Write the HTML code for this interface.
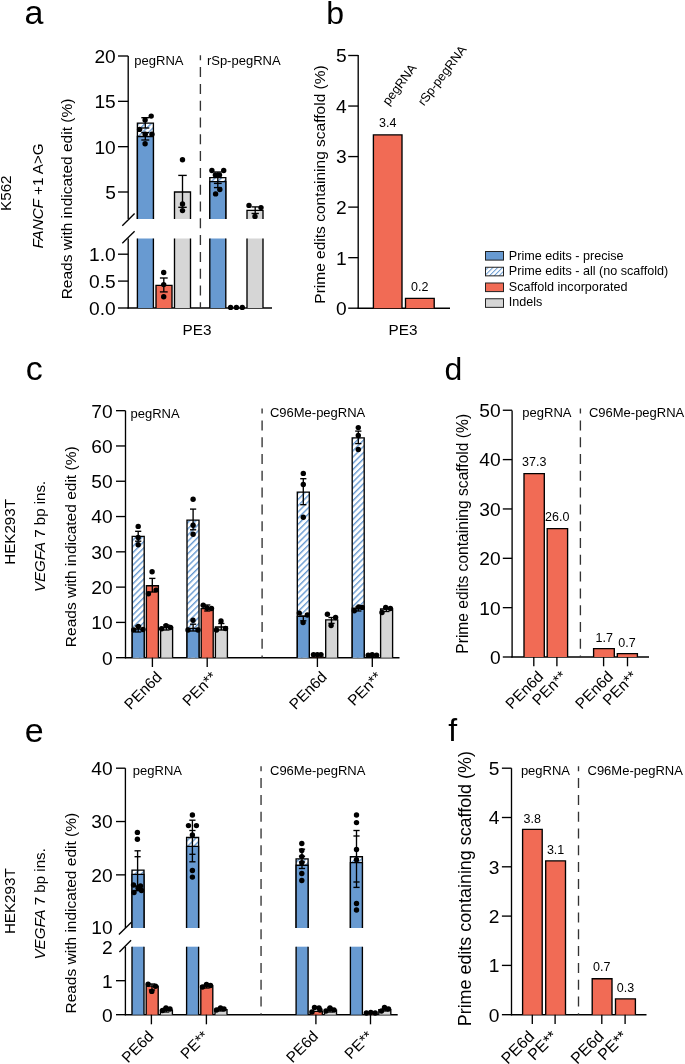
<!DOCTYPE html>
<html><head><meta charset="utf-8"><title>Figure</title>
<style>
html,body{margin:0;padding:0;background:#fff;}
svg{display:block;font-family:"Liberation Sans",sans-serif;will-change:transform;}
</style></head><body>
<svg width="685" height="1064" viewBox="0 0 685 1064">
<defs>
<pattern id="hatch" patternUnits="userSpaceOnUse" width="4.4" height="4.4" patternTransform="rotate(45)">
<rect width="4.4" height="4.4" fill="#fff"/><rect x="0" y="0" width="1.4" height="4.4" fill="#689AD1"/></pattern>
<pattern id="hatchL" patternUnits="userSpaceOnUse" width="3.4" height="3.4" patternTransform="rotate(45)">
<rect width="3.4" height="3.4" fill="#fff"/><rect x="0" y="0" width="1.0" height="3.4" fill="#689AD1"/></pattern>
</defs>
<text x="24.6" y="23.6" font-size="34" text-anchor="start" >a</text>
<text x="326.2" y="23.5" font-size="32" text-anchor="start" >b</text>
<text x="25.7" y="379.9" font-size="34" text-anchor="start" >c</text>
<text x="444.5" y="380.2" font-size="32" text-anchor="start" >d</text>
<text x="24.8" y="741.7" font-size="34" text-anchor="start" >e</text>
<text x="448.3" y="741.4" font-size="32" text-anchor="start" >f</text>
<line x1="128.2" y1="56" x2="128.2" y2="219" stroke="#000" stroke-width="1.35" />
<line x1="128.2" y1="238.5" x2="128.2" y2="308.6" stroke="#000" stroke-width="1.35" />
<line x1="127.6" y1="308" x2="272" y2="308" stroke="#000" stroke-width="1.35" />
<line x1="118" y1="56" x2="128.2" y2="56" stroke="#000" stroke-width="1.35" />
<text x="115.8" y="62.85" font-size="19.2" text-anchor="end" >20</text>
<line x1="118" y1="101.34" x2="128.2" y2="101.34" stroke="#000" stroke-width="1.35" />
<text x="115.8" y="108.19" font-size="19.2" text-anchor="end" >15</text>
<line x1="118" y1="146.67" x2="128.2" y2="146.67" stroke="#000" stroke-width="1.35" />
<text x="115.8" y="153.52" font-size="19.2" text-anchor="end" >10</text>
<line x1="118" y1="192" x2="128.2" y2="192" stroke="#000" stroke-width="1.35" />
<text x="115.8" y="198.85" font-size="19.2" text-anchor="end" >5</text>
<line x1="118" y1="254.2" x2="128.2" y2="254.2" stroke="#000" stroke-width="1.35" />
<text x="115.8" y="261.05" font-size="19.2" text-anchor="end" >1.0</text>
<line x1="118" y1="281.1" x2="128.2" y2="281.1" stroke="#000" stroke-width="1.35" />
<text x="115.8" y="287.95" font-size="19.2" text-anchor="end" >0.5</text>
<line x1="118" y1="308" x2="128.2" y2="308" stroke="#000" stroke-width="1.35" />
<text x="115.8" y="314.85" font-size="19.2" text-anchor="end" >0.0</text>
<line x1="122.3" y1="225.8" x2="134.6" y2="213.6" stroke="#000" stroke-width="1.35" />
<line x1="122.3" y1="243.3" x2="134.6" y2="231.3" stroke="#000" stroke-width="1.35" />
<rect x="137.4" y="123.1" width="16" height="95.9" fill="url(#hatch)"/>
<path d="M137.4 219V123.1H153.4V219" stroke="#000" stroke-width="1.35" fill="none" />
<rect x="137.4" y="136.5" width="16" height="82.5" fill="#689AD1"/>
<path d="M137.4 219V136.5H153.4V219" stroke="#000" stroke-width="1.35" fill="none" />
<rect x="137.4" y="238.5" width="16" height="69.5" fill="#689AD1"/>
<path d="M137.4 308V238.5M153.4 238.5V308" stroke="#000" stroke-width="1.35" fill="none" />
<rect x="156" y="285.4" width="16" height="22.6" fill="#F16B55"/>
<path d="M156 308V285.4H172V308" stroke="#000" stroke-width="1.35" fill="none" />
<rect x="174.5" y="192" width="16" height="27" fill="#D6D6D6"/>
<path d="M174.5 219V192H190.5V219" stroke="#000" stroke-width="1.35" fill="none" />
<rect x="174.5" y="238.5" width="16" height="69.5" fill="#D6D6D6"/>
<path d="M174.5 308V238.5M190.5 238.5V308" stroke="#000" stroke-width="1.35" fill="none" />
<rect x="209.8" y="177.6" width="16" height="41.4" fill="url(#hatch)"/>
<path d="M209.8 219V177.6H225.8V219" stroke="#000" stroke-width="1.35" fill="none" />
<rect x="209.8" y="181.6" width="16" height="37.4" fill="#689AD1"/>
<path d="M209.8 219V181.6H225.8V219" stroke="#000" stroke-width="1.35" fill="none" />
<rect x="209.8" y="238.5" width="16" height="69.5" fill="#689AD1"/>
<path d="M209.8 308V238.5M225.8 238.5V308" stroke="#000" stroke-width="1.35" fill="none" />
<rect x="247" y="210.3" width="16" height="8.7" fill="#D6D6D6"/>
<path d="M247 219V210.3H263V219" stroke="#000" stroke-width="1.35" fill="none" />
<rect x="247" y="238.5" width="16" height="69.5" fill="#D6D6D6"/>
<path d="M247 308V238.5M263 238.5V308" stroke="#000" stroke-width="1.35" fill="none" />
<line x1="145.3" y1="117.7" x2="145.3" y2="128" stroke="#000" stroke-width="1.35" />
<line x1="141.3" y1="117.7" x2="149.3" y2="117.7" stroke="#000" stroke-width="1.35" />
<line x1="141.3" y1="128" x2="149.3" y2="128" stroke="#000" stroke-width="1.35" />
<line x1="145.3" y1="132.6" x2="145.3" y2="140" stroke="#000" stroke-width="1.35" />
<line x1="141.3" y1="132.6" x2="149.3" y2="132.6" stroke="#000" stroke-width="1.35" />
<line x1="141.3" y1="140" x2="149.3" y2="140" stroke="#000" stroke-width="1.35" />
<circle cx="151.2" cy="116.1" r="2.7"/>
<circle cx="145.1" cy="119.9" r="2.7"/>
<circle cx="145.1" cy="143.7" r="2.7"/>
<circle cx="139.6" cy="129.4" r="2.7"/>
<circle cx="145.2" cy="134.2" r="2.7"/>
<circle cx="152" cy="134.2" r="2.7"/>
<line x1="182.5" y1="175.4" x2="182.5" y2="207.3" stroke="#000" stroke-width="1.35" />
<line x1="178.25" y1="175.4" x2="186.75" y2="175.4" stroke="#000" stroke-width="1.35" />
<line x1="178.25" y1="207.3" x2="186.75" y2="207.3" stroke="#000" stroke-width="1.35" />
<circle cx="182.5" cy="159.7" r="2.7"/>
<circle cx="182.5" cy="204" r="2.7"/>
<circle cx="182.5" cy="210.6" r="2.7"/>
<line x1="163.8" y1="278" x2="163.8" y2="291.9" stroke="#000" stroke-width="1.35" />
<line x1="159.9" y1="278" x2="167.7" y2="278" stroke="#000" stroke-width="1.35" />
<line x1="159.9" y1="291.9" x2="167.7" y2="291.9" stroke="#000" stroke-width="1.35" />
<circle cx="163.7" cy="272.5" r="2.7"/>
<circle cx="163.7" cy="284.6" r="2.7"/>
<circle cx="163.7" cy="296.8" r="2.7"/>
<line x1="217.8" y1="172" x2="217.8" y2="187.6" stroke="#000" stroke-width="1.35" />
<line x1="213.9" y1="172" x2="221.7" y2="172" stroke="#000" stroke-width="1.35" />
<line x1="213.9" y1="183.4" x2="221.7" y2="183.4" stroke="#000" stroke-width="1.35" />
<line x1="213.9" y1="187.6" x2="221.7" y2="187.6" stroke="#000" stroke-width="1.35" />
<circle cx="211.9" cy="170.5" r="2.7"/>
<circle cx="223.7" cy="170.5" r="2.7"/>
<circle cx="215.4" cy="174.9" r="2.7"/>
<circle cx="219.5" cy="174.9" r="2.7"/>
<circle cx="219.8" cy="189.5" r="2.7"/>
<circle cx="215.6" cy="193.9" r="2.7"/>
<line x1="255.2" y1="206.9" x2="255.2" y2="213.5" stroke="#000" stroke-width="1.35" />
<line x1="251.55" y1="206.9" x2="258.85" y2="206.9" stroke="#000" stroke-width="1.35" />
<line x1="251.55" y1="213.5" x2="258.85" y2="213.5" stroke="#000" stroke-width="1.35" />
<circle cx="249" cy="205.4" r="2.7"/>
<circle cx="261" cy="207.6" r="2.7"/>
<circle cx="255" cy="216.4" r="2.7"/>
<circle cx="230.6" cy="307.4" r="2.7"/>
<circle cx="236.4" cy="307.4" r="2.7"/>
<circle cx="242.3" cy="307.4" r="2.7"/>
<line x1="200.4" y1="55.3" x2="200.4" y2="308" stroke="#333" stroke-width="1.35" stroke-dasharray="10 6.8" stroke-dashoffset="5"/>
<text x="134.3" y="64.8" font-size="13" text-anchor="start" >pegRNA</text>
<text x="206.9" y="64.8" font-size="13" text-anchor="start" >rSp-pegRNA</text>
<text x="197" y="335.4" font-size="15.3" text-anchor="middle" >PE3</text>
<text x="71.6" y="199" font-size="15.5" text-anchor="middle" transform="rotate(-90 71.6 199)" >Reads with indicated edit (%)</text>
<text x="43.3" y="196" font-size="15.2" text-anchor="middle" transform="rotate(-90 43.3 196)" ><tspan font-style="italic">FANCF</tspan> +1 A&gt;G</text>
<text x="10.9" y="193.2" font-size="15.2" text-anchor="middle" transform="rotate(-90 10.9 193.2)" >K562</text>
<line x1="358.2" y1="55" x2="358.2" y2="308.8" stroke="#000" stroke-width="1.35" />
<line x1="357.6" y1="308.2" x2="450" y2="308.2" stroke="#000" stroke-width="1.35" />
<line x1="348.2" y1="308.2" x2="358.2" y2="308.2" stroke="#000" stroke-width="1.35" />
<text x="346.6" y="315.05" font-size="19.2" text-anchor="end" >0</text>
<line x1="348.2" y1="257.66" x2="358.2" y2="257.66" stroke="#000" stroke-width="1.35" />
<text x="346.6" y="264.51" font-size="19.2" text-anchor="end" >1</text>
<line x1="348.2" y1="207.12" x2="358.2" y2="207.12" stroke="#000" stroke-width="1.35" />
<text x="346.6" y="213.97" font-size="19.2" text-anchor="end" >2</text>
<line x1="348.2" y1="156.58" x2="358.2" y2="156.58" stroke="#000" stroke-width="1.35" />
<text x="346.6" y="163.43" font-size="19.2" text-anchor="end" >3</text>
<line x1="348.2" y1="106.04" x2="358.2" y2="106.04" stroke="#000" stroke-width="1.35" />
<text x="346.6" y="112.89" font-size="19.2" text-anchor="end" >4</text>
<line x1="348.2" y1="55.5" x2="358.2" y2="55.5" stroke="#000" stroke-width="1.35" />
<text x="346.6" y="62.35" font-size="19.2" text-anchor="end" >5</text>
<rect x="373.4" y="134.9" width="28.6" height="173.3" fill="#F16B55"/>
<path d="M373.4 308.2V134.9H402V308.2" stroke="#000" stroke-width="1.35" fill="none" />
<rect x="405.5" y="298.3" width="28.7" height="9.9" fill="#F16B55"/>
<path d="M405.5 308.2V298.3H434.2V308.2" stroke="#000" stroke-width="1.35" fill="none" />
<text x="387.7" y="127" font-size="12.5" text-anchor="middle" >3.4</text>
<text x="419.8" y="291" font-size="12.5" text-anchor="middle" >0.2</text>
<text x="403" y="334.5" font-size="15.3" text-anchor="middle" >PE3</text>
<text x="324.5" y="184.5" font-size="15.5" text-anchor="middle" transform="rotate(-90 324.5 184.5)" >Prime edits containing scaffold (%)</text>
<text x="388.5" y="106" font-size="12.6" text-anchor="start" transform="rotate(-53 388.5 106)" >pegRNA</text>
<text x="424" y="106.5" font-size="12.6" text-anchor="start" transform="rotate(-53 424 106.5)" >rSp-pegRNA</text>
<rect x="485.5" y="251.5" width="18.0" height="8.6" fill="#689AD1" stroke="#222" stroke-width="1"/>
<text x="508.8" y="259.9" font-size="12.6" text-anchor="start" >Prime edits - precise</text>
<rect x="485.5" y="267.25" width="18.0" height="8.6" fill="url(#hatchL)" stroke="#222" stroke-width="1"/>
<text x="508.8" y="275.25" font-size="12.6" text-anchor="start" >Prime edits - all (no scaffold)</text>
<rect x="485.5" y="283" width="18.0" height="8.6" fill="#F16B55" stroke="#222" stroke-width="1"/>
<text x="508.8" y="290.6" font-size="12.6" text-anchor="start" >Scaffold incorporated</text>
<rect x="485.5" y="298.75" width="18.0" height="8.6" fill="#D6D6D6" stroke="#222" stroke-width="1"/>
<text x="508.8" y="305.95" font-size="12.6" text-anchor="start" >Indels</text>
<line x1="125.5" y1="410.7" x2="125.5" y2="658.3" stroke="#000" stroke-width="1.35" />
<line x1="124.9" y1="657.7" x2="399.5" y2="657.7" stroke="#000" stroke-width="1.35" />
<line x1="116" y1="657.7" x2="125.5" y2="657.7" stroke="#000" stroke-width="1.35" />
<text x="112.6" y="664.55" font-size="19.2" text-anchor="end" >0</text>
<line x1="116" y1="622.41" x2="125.5" y2="622.41" stroke="#000" stroke-width="1.35" />
<text x="112.6" y="629.26" font-size="19.2" text-anchor="end" >10</text>
<line x1="116" y1="587.12" x2="125.5" y2="587.12" stroke="#000" stroke-width="1.35" />
<text x="112.6" y="593.97" font-size="19.2" text-anchor="end" >20</text>
<line x1="116" y1="551.83" x2="125.5" y2="551.83" stroke="#000" stroke-width="1.35" />
<text x="112.6" y="558.68" font-size="19.2" text-anchor="end" >30</text>
<line x1="116" y1="516.54" x2="125.5" y2="516.54" stroke="#000" stroke-width="1.35" />
<text x="112.6" y="523.39" font-size="19.2" text-anchor="end" >40</text>
<line x1="116" y1="481.25" x2="125.5" y2="481.25" stroke="#000" stroke-width="1.35" />
<text x="112.6" y="488.1" font-size="19.2" text-anchor="end" >50</text>
<line x1="116" y1="445.96" x2="125.5" y2="445.96" stroke="#000" stroke-width="1.35" />
<text x="112.6" y="452.81" font-size="19.2" text-anchor="end" >60</text>
<line x1="116" y1="410.67" x2="125.5" y2="410.67" stroke="#000" stroke-width="1.35" />
<text x="112.6" y="417.52" font-size="19.2" text-anchor="end" >70</text>
<rect x="132.2" y="536.3" width="12" height="121.4" fill="url(#hatch)"/>
<path d="M132.2 657.7V536.3H144.2V657.7" stroke="#000" stroke-width="1.35" fill="none" />
<rect x="132.2" y="629.12" width="12" height="28.58" fill="#689AD1"/>
<path d="M132.2 657.7V629.12H144.2V657.7" stroke="#000" stroke-width="1.35" fill="none" />
<rect x="146.4" y="585.71" width="12" height="71.99" fill="#F16B55"/>
<path d="M146.4 657.7V585.71H158.4V657.7" stroke="#000" stroke-width="1.35" fill="none" />
<rect x="160.6" y="627.35" width="12" height="30.35" fill="#D6D6D6"/>
<path d="M160.6 657.7V627.35H172.6V657.7" stroke="#000" stroke-width="1.35" fill="none" />
<rect x="187" y="520.07" width="12" height="137.63" fill="url(#hatch)"/>
<path d="M187 657.7V520.07H199V657.7" stroke="#000" stroke-width="1.35" fill="none" />
<rect x="187" y="628.41" width="12" height="29.29" fill="#689AD1"/>
<path d="M187 657.7V628.41H199V657.7" stroke="#000" stroke-width="1.35" fill="none" />
<rect x="201.2" y="608.65" width="12" height="49.05" fill="#F16B55"/>
<path d="M201.2 657.7V608.65H213.2V657.7" stroke="#000" stroke-width="1.35" fill="none" />
<rect x="215.4" y="627" width="12" height="30.7" fill="#D6D6D6"/>
<path d="M215.4 657.7V627H227.4V657.7" stroke="#000" stroke-width="1.35" fill="none" />
<rect x="297.3" y="492.19" width="12" height="165.51" fill="url(#hatch)"/>
<path d="M297.3 657.7V492.19H309.3V657.7" stroke="#000" stroke-width="1.35" fill="none" />
<rect x="297.3" y="616.41" width="12" height="41.29" fill="#689AD1"/>
<path d="M297.3 657.7V616.41H309.3V657.7" stroke="#000" stroke-width="1.35" fill="none" />
<rect x="311.5" y="657.17" width="12" height="0.53" fill="#F16B55"/>
<path d="M311.5 657.7V657.17H323.5V657.7" stroke="#000" stroke-width="1.35" fill="none" />
<rect x="325.7" y="619.94" width="12" height="37.76" fill="#D6D6D6"/>
<path d="M325.7 657.7V619.94H337.7V657.7" stroke="#000" stroke-width="1.35" fill="none" />
<rect x="352.2" y="437.84" width="12" height="219.86" fill="url(#hatch)"/>
<path d="M352.2 657.7V437.84H364.2V657.7" stroke="#000" stroke-width="1.35" fill="none" />
<rect x="352.2" y="608.29" width="12" height="49.41" fill="#689AD1"/>
<path d="M352.2 657.7V608.29H364.2V657.7" stroke="#000" stroke-width="1.35" fill="none" />
<rect x="366.4" y="657.35" width="12" height="0.35" fill="#F16B55"/>
<path d="M366.4 657.7V657.35H378.4V657.7" stroke="#000" stroke-width="1.35" fill="none" />
<rect x="380.6" y="609" width="12" height="48.7" fill="#D6D6D6"/>
<path d="M380.6 657.7V609H392.6V657.7" stroke="#000" stroke-width="1.35" fill="none" />
<line x1="152.4" y1="657.7" x2="152.4" y2="667" stroke="#000" stroke-width="1.35" />
<line x1="207.2" y1="657.7" x2="207.2" y2="667" stroke="#000" stroke-width="1.35" />
<line x1="317.4" y1="657.7" x2="317.4" y2="667" stroke="#000" stroke-width="1.35" />
<line x1="372.3" y1="657.7" x2="372.3" y2="667" stroke="#000" stroke-width="1.35" />
<line x1="138.2" y1="531.3" x2="138.2" y2="541.2" stroke="#000" stroke-width="1.35" />
<line x1="135.1" y1="531.3" x2="141.3" y2="531.3" stroke="#000" stroke-width="1.35" />
<line x1="135.1" y1="541.2" x2="141.3" y2="541.2" stroke="#000" stroke-width="1.35" />
<circle cx="138.2" cy="526.4" r="2.7"/>
<circle cx="138.2" cy="537.5" r="2.7"/>
<circle cx="138.2" cy="544.8" r="2.7"/>
<line x1="193.1" y1="509.1" x2="193.1" y2="529.8" stroke="#000" stroke-width="1.35" />
<line x1="190" y1="509.1" x2="196.2" y2="509.1" stroke="#000" stroke-width="1.35" />
<line x1="190" y1="529.8" x2="196.2" y2="529.8" stroke="#000" stroke-width="1.35" />
<circle cx="193.1" cy="499.3" r="2.7"/>
<circle cx="193.1" cy="525.2" r="2.7"/>
<circle cx="193.1" cy="534.3" r="2.7"/>
<line x1="303.3" y1="478.7" x2="303.3" y2="504.7" stroke="#000" stroke-width="1.35" />
<line x1="300.2" y1="478.7" x2="306.4" y2="478.7" stroke="#000" stroke-width="1.35" />
<line x1="300.2" y1="504.7" x2="306.4" y2="504.7" stroke="#000" stroke-width="1.35" />
<circle cx="303.3" cy="473.4" r="2.7"/>
<circle cx="303.3" cy="484.5" r="2.7"/>
<circle cx="303.3" cy="517.2" r="2.7"/>
<line x1="358.3" y1="431.1" x2="358.3" y2="443.6" stroke="#000" stroke-width="1.35" />
<line x1="355.2" y1="431.1" x2="361.4" y2="431.1" stroke="#000" stroke-width="1.35" />
<line x1="355.2" y1="443.6" x2="361.4" y2="443.6" stroke="#000" stroke-width="1.35" />
<circle cx="358.3" cy="427.6" r="2.7"/>
<circle cx="358.3" cy="435.5" r="2.7"/>
<circle cx="358.3" cy="449.5" r="2.7"/>
<line x1="152.3" y1="578.4" x2="152.3" y2="592" stroke="#000" stroke-width="1.35" />
<line x1="149.2" y1="578.4" x2="155.4" y2="578.4" stroke="#000" stroke-width="1.35" />
<line x1="149.2" y1="592" x2="155.4" y2="592" stroke="#000" stroke-width="1.35" />
<circle cx="152.1" cy="571.8" r="2.7"/>
<circle cx="148.4" cy="593.7" r="2.7"/>
<circle cx="156.1" cy="590.1" r="2.7"/>
<line x1="207.3" y1="605" x2="207.3" y2="611" stroke="#000" stroke-width="1.35" />
<line x1="204.2" y1="605" x2="210.4" y2="605" stroke="#000" stroke-width="1.35" />
<line x1="204.2" y1="611" x2="210.4" y2="611" stroke="#000" stroke-width="1.35" />
<circle cx="203.2" cy="605.3" r="2.7"/>
<circle cx="207" cy="608" r="2.7"/>
<circle cx="211.5" cy="608.5" r="2.7"/>
<line x1="138.2" y1="626" x2="138.2" y2="632" stroke="#000" stroke-width="1.35" />
<line x1="135.1" y1="626" x2="141.3" y2="626" stroke="#000" stroke-width="1.35" />
<line x1="135.1" y1="632" x2="141.3" y2="632" stroke="#000" stroke-width="1.35" />
<circle cx="133.8" cy="630" r="2.7"/>
<circle cx="138.3" cy="626.5" r="2.7"/>
<circle cx="143" cy="629.5" r="2.7"/>
<line x1="166.5" y1="625" x2="166.5" y2="630" stroke="#000" stroke-width="1.35" />
<line x1="163.4" y1="625" x2="169.6" y2="625" stroke="#000" stroke-width="1.35" />
<line x1="163.4" y1="630" x2="169.6" y2="630" stroke="#000" stroke-width="1.35" />
<circle cx="161.7" cy="628.7" r="2.7"/>
<circle cx="166" cy="625.7" r="2.7"/>
<circle cx="170.5" cy="627.5" r="2.7"/>
<line x1="193.1" y1="624.2" x2="193.1" y2="631" stroke="#000" stroke-width="1.35" />
<line x1="190" y1="624.2" x2="196.2" y2="624.2" stroke="#000" stroke-width="1.35" />
<line x1="190" y1="631" x2="196.2" y2="631" stroke="#000" stroke-width="1.35" />
<circle cx="193" cy="620.2" r="2.7"/>
<circle cx="188" cy="630" r="2.7"/>
<circle cx="198" cy="630" r="2.7"/>
<line x1="221.3" y1="623.5" x2="221.3" y2="630" stroke="#000" stroke-width="1.35" />
<line x1="218.2" y1="623.5" x2="224.4" y2="623.5" stroke="#000" stroke-width="1.35" />
<line x1="218.2" y1="630" x2="224.4" y2="630" stroke="#000" stroke-width="1.35" />
<circle cx="221" cy="620.9" r="2.7"/>
<circle cx="216.5" cy="630" r="2.7"/>
<circle cx="225.5" cy="628.5" r="2.7"/>
<line x1="303.3" y1="616" x2="303.3" y2="620.8" stroke="#000" stroke-width="1.35" />
<line x1="300.2" y1="616" x2="306.4" y2="616" stroke="#000" stroke-width="1.35" />
<line x1="300.2" y1="620.8" x2="306.4" y2="620.8" stroke="#000" stroke-width="1.35" />
<circle cx="299.3" cy="613.1" r="2.7"/>
<circle cx="307.3" cy="615" r="2.7"/>
<circle cx="303.1" cy="622.6" r="2.7"/>
<circle cx="313.5" cy="654.6" r="2.7"/>
<circle cx="317.3" cy="654.6" r="2.7"/>
<circle cx="321" cy="654.6" r="2.7"/>
<line x1="331.5" y1="617.5" x2="331.5" y2="623.4" stroke="#000" stroke-width="1.35" />
<line x1="328.4" y1="617.5" x2="334.6" y2="617.5" stroke="#000" stroke-width="1.35" />
<line x1="328.4" y1="623.4" x2="334.6" y2="623.4" stroke="#000" stroke-width="1.35" />
<circle cx="327.4" cy="614.2" r="2.7"/>
<circle cx="335.6" cy="617.5" r="2.7"/>
<circle cx="331.1" cy="625.5" r="2.7"/>
<line x1="358.3" y1="607" x2="358.3" y2="611" stroke="#000" stroke-width="1.35" />
<line x1="355.2" y1="607" x2="361.4" y2="607" stroke="#000" stroke-width="1.35" />
<line x1="355.2" y1="611" x2="361.4" y2="611" stroke="#000" stroke-width="1.35" />
<circle cx="354.3" cy="610.7" r="2.7"/>
<circle cx="358.7" cy="607" r="2.7"/>
<circle cx="362.3" cy="607.4" r="2.7"/>
<circle cx="368.2" cy="655.2" r="2.7"/>
<circle cx="372.2" cy="654.7" r="2.7"/>
<circle cx="376.6" cy="655.2" r="2.7"/>
<line x1="386.4" y1="608" x2="386.4" y2="611.5" stroke="#000" stroke-width="1.35" />
<line x1="383.3" y1="608" x2="389.5" y2="608" stroke="#000" stroke-width="1.35" />
<line x1="383.3" y1="611.5" x2="389.5" y2="611.5" stroke="#000" stroke-width="1.35" />
<circle cx="382" cy="612.5" r="2.7"/>
<circle cx="385.7" cy="607.4" r="2.7"/>
<circle cx="390.4" cy="608.5" r="2.7"/>
<line x1="262.1" y1="408.6" x2="262.1" y2="657.7" stroke="#333" stroke-width="1.35" stroke-dasharray="10 6.8" stroke-dashoffset="5"/>
<text x="130.5" y="417.7" font-size="13" text-anchor="start" >pegRNA</text>
<text x="269.9" y="417.4" font-size="13" text-anchor="start" >C96Me-pegRNA</text>
<text x="75.8" y="546.8" font-size="15.5" text-anchor="middle" transform="rotate(-90 75.8 546.8)" >Reads with indicated edit (%)</text>
<text x="45" y="536.4" font-size="15.1" text-anchor="middle" transform="rotate(-90 45 536.4)" ><tspan font-style="italic">VEGFA</tspan> 7 bp ins.</text>
<text x="15" y="531.9" font-size="15.2" text-anchor="middle" transform="rotate(-90 15 531.9)" >HEK293T</text>
<line x1="512.1" y1="410.4" x2="512.1" y2="657.6" stroke="#000" stroke-width="1.35" />
<line x1="511.5" y1="657" x2="649" y2="657" stroke="#000" stroke-width="1.35" />
<line x1="502.8" y1="657" x2="512.1" y2="657" stroke="#000" stroke-width="1.35" />
<text x="500.6" y="663.85" font-size="19.2" text-anchor="end" >0</text>
<line x1="502.8" y1="607.65" x2="512.1" y2="607.65" stroke="#000" stroke-width="1.35" />
<text x="500.6" y="614.5" font-size="19.2" text-anchor="end" >10</text>
<line x1="502.8" y1="558.3" x2="512.1" y2="558.3" stroke="#000" stroke-width="1.35" />
<text x="500.6" y="565.15" font-size="19.2" text-anchor="end" >20</text>
<line x1="502.8" y1="508.95" x2="512.1" y2="508.95" stroke="#000" stroke-width="1.35" />
<text x="500.6" y="515.8" font-size="19.2" text-anchor="end" >30</text>
<line x1="502.8" y1="459.6" x2="512.1" y2="459.6" stroke="#000" stroke-width="1.35" />
<text x="500.6" y="466.45" font-size="19.2" text-anchor="end" >40</text>
<line x1="502.8" y1="410.25" x2="512.1" y2="410.25" stroke="#000" stroke-width="1.35" />
<text x="500.6" y="417.1" font-size="19.2" text-anchor="end" >50</text>
<rect x="524" y="473.6" width="20.3" height="183.4" fill="#F16B55"/>
<path d="M524 657V473.6H544.3V657" stroke="#000" stroke-width="1.35" fill="none" />
<rect x="547.2" y="528.69" width="20.4" height="128.31" fill="#F16B55"/>
<path d="M547.2 657V528.69H567.6V657" stroke="#000" stroke-width="1.35" fill="none" />
<rect x="593.6" y="648.61" width="20.7" height="8.39" fill="#F16B55"/>
<path d="M593.6 657V648.61H614.3V657" stroke="#000" stroke-width="1.35" fill="none" />
<rect x="617.3" y="653.55" width="20.1" height="3.45" fill="#F16B55"/>
<path d="M617.3 657V653.55H637.4V657" stroke="#000" stroke-width="1.35" fill="none" />
<text x="534.2" y="465.8" font-size="12.5" text-anchor="middle" >37.3</text>
<text x="557.2" y="521.4" font-size="12.5" text-anchor="middle" >26.0</text>
<text x="604.3" y="641.6" font-size="12.5" text-anchor="middle" >1.7</text>
<text x="627" y="646.6" font-size="12.5" text-anchor="middle" >0.7</text>
<line x1="533.8" y1="657" x2="533.8" y2="666.3" stroke="#000" stroke-width="1.35" />
<line x1="556.9" y1="657" x2="556.9" y2="666.3" stroke="#000" stroke-width="1.35" />
<line x1="603.6" y1="657" x2="603.6" y2="666.3" stroke="#000" stroke-width="1.35" />
<line x1="627.5" y1="657" x2="627.5" y2="666.3" stroke="#000" stroke-width="1.35" />
<line x1="580.4" y1="408.6" x2="580.4" y2="657" stroke="#333" stroke-width="1.35" stroke-dasharray="10 6.8" stroke-dashoffset="5"/>
<text x="522.3" y="416.6" font-size="13" text-anchor="start" >pegRNA</text>
<text x="588.9" y="416.6" font-size="13" text-anchor="start" >C96Me-pegRNA</text>
<text x="468.5" y="533.8" font-size="15.6" text-anchor="middle" transform="rotate(-90 468.5 533.8)" >Prime edits containing scaffold (%)</text>
<line x1="125.4" y1="768.2" x2="125.4" y2="928" stroke="#000" stroke-width="1.35" />
<line x1="125.4" y1="946.7" x2="125.4" y2="1015.3" stroke="#000" stroke-width="1.35" />
<line x1="124.8" y1="1014.7" x2="397.7" y2="1014.7" stroke="#000" stroke-width="1.35" />
<line x1="116" y1="768.2" x2="125.4" y2="768.2" stroke="#000" stroke-width="1.35" />
<text x="112.6" y="775.05" font-size="19.2" text-anchor="end" >40</text>
<line x1="116" y1="821.53" x2="125.4" y2="821.53" stroke="#000" stroke-width="1.35" />
<text x="112.6" y="828.38" font-size="19.2" text-anchor="end" >30</text>
<line x1="116" y1="874.86" x2="125.4" y2="874.86" stroke="#000" stroke-width="1.35" />
<text x="112.6" y="881.71" font-size="19.2" text-anchor="end" >20</text>
<text x="112.6" y="934.45" font-size="19.2" text-anchor="end" >10</text>
<text x="112.6" y="953.55" font-size="19.2" text-anchor="end" >2</text>
<line x1="116" y1="980.7" x2="125.4" y2="980.7" stroke="#000" stroke-width="1.35" />
<text x="112.6" y="987.55" font-size="19.2" text-anchor="end" >1</text>
<line x1="116" y1="1014.7" x2="125.4" y2="1014.7" stroke="#000" stroke-width="1.35" />
<text x="112.6" y="1021.55" font-size="19.2" text-anchor="end" >0</text>
<line x1="118.9" y1="934.6" x2="131.4" y2="922.2" stroke="#000" stroke-width="1.35" />
<line x1="119.4" y1="952" x2="131.1" y2="940.3" stroke="#000" stroke-width="1.35" />
<rect x="132" y="870.06" width="12" height="57.94" fill="url(#hatch)"/>
<path d="M132 928V870.06H144V928" stroke="#000" stroke-width="1.35" fill="none" />
<rect x="132" y="874.33" width="12" height="53.67" fill="#689AD1"/>
<path d="M132 928V874.33H144V928" stroke="#000" stroke-width="1.35" fill="none" />
<rect x="132" y="946.7" width="12" height="68" fill="#689AD1"/>
<path d="M132 1014.7V946.7M144 946.7V1014.7" stroke="#000" stroke-width="1.35" fill="none" />
<rect x="146.2" y="986.14" width="12" height="28.56" fill="#F16B55"/>
<path d="M146.2 1014.7V986.14H158.2V1014.7" stroke="#000" stroke-width="1.35" fill="none" />
<rect x="160.4" y="1010.28" width="12" height="4.42" fill="#D6D6D6"/>
<path d="M160.4 1014.7V1010.28H172.4V1014.7" stroke="#000" stroke-width="1.35" fill="none" />
<rect x="186.6" y="837.53" width="12" height="90.47" fill="url(#hatch)"/>
<path d="M186.6 928V837.53H198.6V928" stroke="#000" stroke-width="1.35" fill="none" />
<rect x="186.6" y="846.33" width="12" height="81.67" fill="#689AD1"/>
<path d="M186.6 928V846.33H198.6V928" stroke="#000" stroke-width="1.35" fill="none" />
<rect x="186.6" y="946.7" width="12" height="68" fill="#689AD1"/>
<path d="M186.6 1014.7V946.7M198.6 946.7V1014.7" stroke="#000" stroke-width="1.35" fill="none" />
<rect x="200.8" y="985.8" width="12" height="28.9" fill="#F16B55"/>
<path d="M200.8 1014.7V985.8H212.8V1014.7" stroke="#000" stroke-width="1.35" fill="none" />
<rect x="215" y="1009.6" width="12" height="5.1" fill="#D6D6D6"/>
<path d="M215 1014.7V1009.6H227V1014.7" stroke="#000" stroke-width="1.35" fill="none" />
<rect x="296.1" y="858.86" width="12" height="69.14" fill="url(#hatch)"/>
<path d="M296.1 928V858.86H308.1V928" stroke="#000" stroke-width="1.35" fill="none" />
<rect x="296.1" y="865.26" width="12" height="62.74" fill="#689AD1"/>
<path d="M296.1 928V865.26H308.1V928" stroke="#000" stroke-width="1.35" fill="none" />
<rect x="296.1" y="946.7" width="12" height="68" fill="#689AD1"/>
<path d="M296.1 1014.7V946.7M308.1 946.7V1014.7" stroke="#000" stroke-width="1.35" fill="none" />
<rect x="310.3" y="1011.3" width="12" height="3.4" fill="#F16B55"/>
<path d="M310.3 1014.7V1011.3H322.3V1014.7" stroke="#000" stroke-width="1.35" fill="none" />
<rect x="324.5" y="1010.28" width="12" height="4.42" fill="#D6D6D6"/>
<path d="M324.5 1014.7V1010.28H336.5V1014.7" stroke="#000" stroke-width="1.35" fill="none" />
<rect x="350.4" y="856.73" width="12" height="71.27" fill="url(#hatch)"/>
<path d="M350.4 928V856.73H362.4V928" stroke="#000" stroke-width="1.35" fill="none" />
<rect x="350.4" y="862.59" width="12" height="65.41" fill="#689AD1"/>
<path d="M350.4 928V862.59H362.4V928" stroke="#000" stroke-width="1.35" fill="none" />
<rect x="350.4" y="946.7" width="12" height="68" fill="#689AD1"/>
<path d="M350.4 1014.7V946.7M362.4 946.7V1014.7" stroke="#000" stroke-width="1.35" fill="none" />
<rect x="364.6" y="1013" width="12" height="1.7" fill="#F16B55"/>
<path d="M364.6 1014.7V1013H376.6V1014.7" stroke="#000" stroke-width="1.35" fill="none" />
<rect x="378.8" y="1009.6" width="12" height="5.1" fill="#D6D6D6"/>
<path d="M378.8 1014.7V1009.6H390.8V1014.7" stroke="#000" stroke-width="1.35" fill="none" />
<line x1="151.4" y1="1014.7" x2="151.4" y2="1024.3" stroke="#000" stroke-width="1.35" />
<line x1="206.4" y1="1014.7" x2="206.4" y2="1024.3" stroke="#000" stroke-width="1.35" />
<line x1="315.9" y1="1014.7" x2="315.9" y2="1024.3" stroke="#000" stroke-width="1.35" />
<line x1="370.5" y1="1014.7" x2="370.5" y2="1024.3" stroke="#000" stroke-width="1.35" />
<line x1="137.6" y1="850.8" x2="137.6" y2="890.7" stroke="#000" stroke-width="1.35" />
<line x1="134.5" y1="850.8" x2="140.7" y2="850.8" stroke="#000" stroke-width="1.35" />
<line x1="134.5" y1="856.7" x2="140.7" y2="856.7" stroke="#000" stroke-width="1.35" />
<line x1="134.5" y1="886" x2="140.7" y2="886" stroke="#000" stroke-width="1.35" />
<line x1="134.5" y1="890.7" x2="140.7" y2="890.7" stroke="#000" stroke-width="1.35" />
<circle cx="137.4" cy="832.4" r="2.7"/>
<circle cx="137.4" cy="839.2" r="2.7"/>
<circle cx="133.5" cy="885" r="2.7"/>
<circle cx="134" cy="892.5" r="2.7"/>
<circle cx="141.5" cy="890.5" r="2.7"/>
<circle cx="138" cy="888" r="2.7"/>
<circle cx="140.5" cy="886" r="2.7"/>
<line x1="192.4" y1="820.2" x2="192.4" y2="861.8" stroke="#000" stroke-width="1.35" />
<line x1="189.3" y1="820.2" x2="195.5" y2="820.2" stroke="#000" stroke-width="1.35" />
<line x1="189.3" y1="830.5" x2="195.5" y2="830.5" stroke="#000" stroke-width="1.35" />
<line x1="189.3" y1="854.3" x2="195.5" y2="854.3" stroke="#000" stroke-width="1.35" />
<line x1="189.3" y1="861.8" x2="195.5" y2="861.8" stroke="#000" stroke-width="1.35" />
<circle cx="192.4" cy="815" r="2.7"/>
<circle cx="188.5" cy="825.6" r="2.7"/>
<circle cx="196.4" cy="825.6" r="2.7"/>
<circle cx="192.4" cy="835" r="2.7"/>
<circle cx="192.4" cy="870.5" r="2.7"/>
<circle cx="192.4" cy="877.1" r="2.7"/>
<line x1="302" y1="849.2" x2="302" y2="868.5" stroke="#000" stroke-width="1.35" />
<line x1="298.9" y1="849.2" x2="305.1" y2="849.2" stroke="#000" stroke-width="1.35" />
<line x1="298.9" y1="856.3" x2="305.1" y2="856.3" stroke="#000" stroke-width="1.35" />
<line x1="298.9" y1="862" x2="305.1" y2="862" stroke="#000" stroke-width="1.35" />
<line x1="298.9" y1="868.5" x2="305.1" y2="868.5" stroke="#000" stroke-width="1.35" />
<circle cx="301.8" cy="843.5" r="2.7"/>
<circle cx="301.8" cy="850.6" r="2.7"/>
<circle cx="301.8" cy="856.6" r="2.7"/>
<circle cx="301.8" cy="862.7" r="2.7"/>
<circle cx="301.8" cy="873.5" r="2.7"/>
<circle cx="301.8" cy="880.5" r="2.7"/>
<line x1="356.5" y1="830.5" x2="356.5" y2="887.4" stroke="#000" stroke-width="1.35" />
<line x1="353.4" y1="830.5" x2="359.6" y2="830.5" stroke="#000" stroke-width="1.35" />
<line x1="353.4" y1="836" x2="359.6" y2="836" stroke="#000" stroke-width="1.35" />
<line x1="353.4" y1="882" x2="359.6" y2="882" stroke="#000" stroke-width="1.35" />
<line x1="353.4" y1="887.4" x2="359.6" y2="887.4" stroke="#000" stroke-width="1.35" />
<circle cx="356.5" cy="815" r="2.7"/>
<circle cx="356.5" cy="822.6" r="2.7"/>
<circle cx="356.5" cy="849.5" r="2.7"/>
<circle cx="356.5" cy="859.7" r="2.7"/>
<circle cx="356.5" cy="903.5" r="2.7"/>
<circle cx="356.5" cy="910" r="2.7"/>
<line x1="152" y1="984" x2="152" y2="990" stroke="#000" stroke-width="1.35" />
<line x1="148.9" y1="984" x2="155.1" y2="984" stroke="#000" stroke-width="1.35" />
<line x1="148.9" y1="990" x2="155.1" y2="990" stroke="#000" stroke-width="1.35" />
<circle cx="148.1" cy="984.2" r="2.7"/>
<circle cx="155.5" cy="986.2" r="2.7"/>
<circle cx="151.8" cy="991.4" r="2.7"/>
<line x1="166.2" y1="1008" x2="166.2" y2="1012" stroke="#000" stroke-width="1.35" />
<line x1="163.1" y1="1008" x2="169.3" y2="1008" stroke="#000" stroke-width="1.35" />
<line x1="163.1" y1="1012" x2="169.3" y2="1012" stroke="#000" stroke-width="1.35" />
<circle cx="162.5" cy="1010.5" r="2.7"/>
<circle cx="166" cy="1008" r="2.7"/>
<circle cx="170" cy="1009" r="2.7"/>
<line x1="206.6" y1="985" x2="206.6" y2="988" stroke="#000" stroke-width="1.35" />
<line x1="203.5" y1="985" x2="209.7" y2="985" stroke="#000" stroke-width="1.35" />
<line x1="203.5" y1="988" x2="209.7" y2="988" stroke="#000" stroke-width="1.35" />
<circle cx="202.5" cy="987" r="2.7"/>
<circle cx="206.5" cy="984.5" r="2.7"/>
<circle cx="210.5" cy="985.5" r="2.7"/>
<line x1="220.4" y1="1008" x2="220.4" y2="1011" stroke="#000" stroke-width="1.35" />
<line x1="217.3" y1="1008" x2="223.5" y2="1008" stroke="#000" stroke-width="1.35" />
<line x1="217.3" y1="1011" x2="223.5" y2="1011" stroke="#000" stroke-width="1.35" />
<circle cx="216.5" cy="1010" r="2.7"/>
<circle cx="220.5" cy="1008" r="2.7"/>
<circle cx="224" cy="1009" r="2.7"/>
<circle cx="312" cy="1012" r="2.7"/>
<circle cx="314.5" cy="1007.5" r="2.7"/>
<circle cx="319" cy="1008" r="2.7"/>
<circle cx="320" cy="1010" r="2.7"/>
<line x1="330" y1="1008" x2="330" y2="1012" stroke="#000" stroke-width="1.35" />
<line x1="326.9" y1="1008" x2="333.1" y2="1008" stroke="#000" stroke-width="1.35" />
<line x1="326.9" y1="1012" x2="333.1" y2="1012" stroke="#000" stroke-width="1.35" />
<circle cx="326" cy="1011" r="2.7"/>
<circle cx="330" cy="1008" r="2.7"/>
<circle cx="334" cy="1010" r="2.7"/>
<circle cx="366.4" cy="1013" r="2.7"/>
<circle cx="370.8" cy="1012.5" r="2.7"/>
<circle cx="375.2" cy="1013" r="2.7"/>
<line x1="385.2" y1="1007.5" x2="385.2" y2="1011" stroke="#000" stroke-width="1.35" />
<line x1="382.1" y1="1007.5" x2="388.3" y2="1007.5" stroke="#000" stroke-width="1.35" />
<line x1="382.1" y1="1011" x2="388.3" y2="1011" stroke="#000" stroke-width="1.35" />
<circle cx="381.5" cy="1011" r="2.7"/>
<circle cx="384.5" cy="1007.5" r="2.7"/>
<circle cx="388.5" cy="1009" r="2.7"/>
<line x1="261.05" y1="766.3" x2="261.05" y2="1014.7" stroke="#333" stroke-width="1.35" stroke-dasharray="10 6.8" stroke-dashoffset="5"/>
<text x="132.8" y="774.9" font-size="13" text-anchor="start" >pegRNA</text>
<text x="270" y="774.5" font-size="13" text-anchor="start" >C96Me-pegRNA</text>
<text x="75.8" y="913.2" font-size="15.5" text-anchor="middle" transform="rotate(-90 75.8 913.2)" >Reads with indicated edit (%)</text>
<text x="45" y="903.8" font-size="15.1" text-anchor="middle" transform="rotate(-90 45 903.8)" ><tspan font-style="italic">VEGFA</tspan> 7 bp ins.</text>
<text x="15" y="901.2" font-size="15.2" text-anchor="middle" transform="rotate(-90 15 901.2)" >HEK293T</text>
<line x1="511.5" y1="768.2" x2="511.5" y2="1015.3" stroke="#000" stroke-width="1.35" />
<line x1="510.9" y1="1014.7" x2="646.5" y2="1014.7" stroke="#000" stroke-width="1.35" />
<line x1="501.9" y1="1014.7" x2="511.5" y2="1014.7" stroke="#000" stroke-width="1.35" />
<text x="499.3" y="1021.55" font-size="19.2" text-anchor="end" >0</text>
<line x1="501.9" y1="965.4" x2="511.5" y2="965.4" stroke="#000" stroke-width="1.35" />
<text x="499.3" y="972.25" font-size="19.2" text-anchor="end" >1</text>
<line x1="501.9" y1="916.1" x2="511.5" y2="916.1" stroke="#000" stroke-width="1.35" />
<text x="499.3" y="922.95" font-size="19.2" text-anchor="end" >2</text>
<line x1="501.9" y1="866.8" x2="511.5" y2="866.8" stroke="#000" stroke-width="1.35" />
<text x="499.3" y="873.65" font-size="19.2" text-anchor="end" >3</text>
<line x1="501.9" y1="817.5" x2="511.5" y2="817.5" stroke="#000" stroke-width="1.35" />
<text x="499.3" y="824.35" font-size="19.2" text-anchor="end" >4</text>
<line x1="501.9" y1="768.2" x2="511.5" y2="768.2" stroke="#000" stroke-width="1.35" />
<text x="499.3" y="775.05" font-size="19.2" text-anchor="end" >5</text>
<rect x="522.6" y="829.33" width="19.6" height="185.37" fill="#F16B55"/>
<path d="M522.6 1014.7V829.33H542.2V1014.7" stroke="#000" stroke-width="1.35" fill="none" />
<rect x="545.7" y="860.88" width="19.8" height="153.82" fill="#F16B55"/>
<path d="M545.7 1014.7V860.88H565.5V1014.7" stroke="#000" stroke-width="1.35" fill="none" />
<rect x="592.2" y="978.71" width="19.8" height="35.99" fill="#F16B55"/>
<path d="M592.2 1014.7V978.71H612V1014.7" stroke="#000" stroke-width="1.35" fill="none" />
<rect x="615.5" y="998.92" width="19.9" height="15.78" fill="#F16B55"/>
<path d="M615.5 1014.7V998.92H635.4V1014.7" stroke="#000" stroke-width="1.35" fill="none" />
<text x="532.3" y="822.8" font-size="12.5" text-anchor="middle" >3.8</text>
<text x="555.6" y="853.7" font-size="12.5" text-anchor="middle" >3.1</text>
<text x="601.8" y="971.4" font-size="12.5" text-anchor="middle" >0.7</text>
<text x="625.4" y="991.6" font-size="12.5" text-anchor="middle" >0.3</text>
<line x1="532.3" y1="1014.7" x2="532.3" y2="1024" stroke="#000" stroke-width="1.35" />
<line x1="555.1" y1="1014.7" x2="555.1" y2="1024" stroke="#000" stroke-width="1.35" />
<line x1="601.8" y1="1014.7" x2="601.8" y2="1024" stroke="#000" stroke-width="1.35" />
<line x1="625.1" y1="1014.7" x2="625.1" y2="1024" stroke="#000" stroke-width="1.35" />
<line x1="578.5" y1="766.3" x2="578.5" y2="1014.7" stroke="#333" stroke-width="1.35" stroke-dasharray="10 6.8" stroke-dashoffset="5"/>
<text x="520.9" y="774.9" font-size="13" text-anchor="start" >pegRNA</text>
<text x="587.5" y="774.9" font-size="13" text-anchor="start" >C96Me-pegRNA</text>
<text x="471.5" y="888.7" font-size="17.9" text-anchor="middle" transform="rotate(-90 471.5 888.7)" >Prime edits containing scaffold (%)</text>
<text x="162.9" y="678" font-size="15.3" text-anchor="end" transform="rotate(-45 162.9 678)" >PEn6d</text>
<text x="217.7" y="678" font-size="15.3" text-anchor="end" transform="rotate(-45 217.7 678)" >PEn**</text>
<text x="327.9" y="678" font-size="15.3" text-anchor="end" transform="rotate(-45 327.9 678)" >PEn6d</text>
<text x="382.8" y="678" font-size="15.3" text-anchor="end" transform="rotate(-45 382.8 678)" >PEn**</text>
<text x="544.3" y="677.4" font-size="15.3" text-anchor="end" transform="rotate(-45 544.3 677.4)" >PEn6d</text>
<text x="567.4" y="677.4" font-size="15.3" text-anchor="end" transform="rotate(-45 567.4 677.4)" >PEn**</text>
<text x="614.1" y="677.4" font-size="15.3" text-anchor="end" transform="rotate(-45 614.1 677.4)" >PEn6d</text>
<text x="638" y="677.4" font-size="15.3" text-anchor="end" transform="rotate(-45 638 677.4)" >PEn**</text>
<text x="154.5" y="1037.2" font-size="15.3" text-anchor="end" transform="rotate(-45 154.5 1037.2)" >PE6d</text>
<text x="209.5" y="1037.2" font-size="15.3" text-anchor="end" transform="rotate(-45 209.5 1037.2)" >PE**</text>
<text x="319" y="1037.2" font-size="15.3" text-anchor="end" transform="rotate(-45 319 1037.2)" >PE6d</text>
<text x="373.6" y="1037.2" font-size="15.3" text-anchor="end" transform="rotate(-45 373.6 1037.2)" >PE**</text>
<text x="535.4" y="1037.4" font-size="16" text-anchor="end" transform="rotate(-45 535.4 1037.4)" >PE6d</text>
<text x="558.2" y="1037.4" font-size="16" text-anchor="end" transform="rotate(-45 558.2 1037.4)" >PE**</text>
<text x="604.9" y="1037.4" font-size="16" text-anchor="end" transform="rotate(-45 604.9 1037.4)" >PE6d</text>
<text x="628.2" y="1037.4" font-size="16" text-anchor="end" transform="rotate(-45 628.2 1037.4)" >PE**</text>
</svg>
</body></html>
